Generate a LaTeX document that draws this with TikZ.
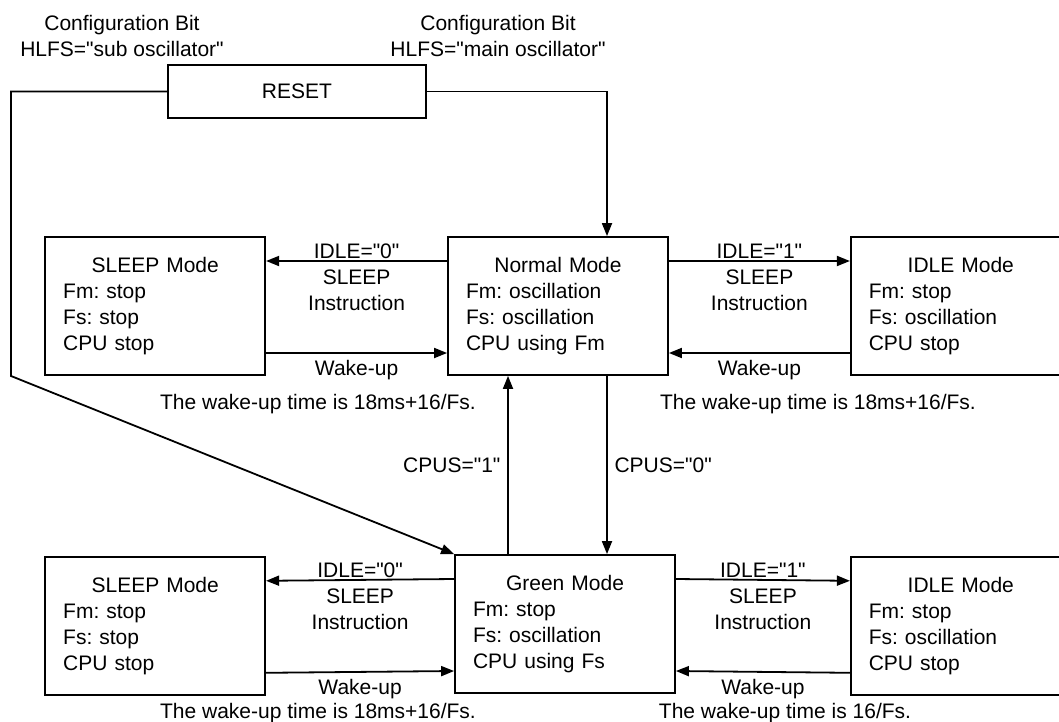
\documentclass[tikz,border=0pt]{standalone}
\usepackage{fontspec}
\setmainfont{Liberation Sans}[Ligatures=TeXOff]
\usetikzlibrary{arrows.meta,positioning}
\newcommand{\modehead}[1]{\hbox to\hsize{\hfil#1\hfil}\\}

\begin{document}
\begin{tikzpicture}[x=0.5pt,y=-0.5pt,
  font=\fontsize{10.5}{13}\selectfont\frenchspacing,
  modebox/.style={draw, line width=0.9pt, minimum width=110pt, minimum height=69pt, text width=92pt, align=left, inner sep=0pt},
  resetbox/.style={draw, line width=0.9pt, minimum width=129pt, minimum height=26.5pt},
  arr/.style={line width=0.9pt, -{Triangle[length=6.5pt,width=5pt]}},
  cond/.style={midway, yshift=-8pt, align=center, inner sep=0pt}]
  \useasboundingbox (0,0) rectangle (1059,722);

  % configuration bits and reset
  \node[align=center] (cfgsub) at (122,36) {Configuration Bit\\HLFS="sub oscillator"};
  \node[align=center] (cfgmain) at (498,36) {Configuration Bit\\HLFS="main oscillator"};
  \node[resetbox] (reset) at (297,91.5) {RESET};

  % top row
  \node[modebox] (normal) at (558,306) {\modehead{Normal Mode}Fm: oscillation\\Fs: oscillation\\CPU using Fm};
  \node[modebox, left=90.5pt of normal] (sleepA) {\modehead{SLEEP Mode}Fm: stop\\Fs: stop\\CPU stop};
  \node[modebox, right=90.5pt of normal] (idleA) {\modehead{IDLE Mode}Fm: stop\\Fs: oscillation\\CPU stop};

  % bottom row
  \node[modebox] (green) at (565,624) {\modehead{Green Mode}Fm: stop\\Fs: oscillation\\CPU using Fs};
  \node[modebox, below=90pt of sleepA] (sleepB) {\modehead{SLEEP Mode}Fm: stop\\Fs: stop\\CPU stop};
  \node[modebox, below=90pt of idleA] (idleB) {\modehead{IDLE Mode}Fm: stop\\Fs: oscillation\\CPU stop};

  % wake-up times
  \node (noteA) at (318,404) {The wake-up time is 18ms+16/Fs.};
  \node (noteB) at (818,404) {The wake-up time is 18ms+16/Fs.};
  \node (noteC) at (318,713) {The wake-up time is 18ms+16/Fs.};
  \node (noteD) at (785,713) {The wake-up time is 16/Fs.};

  % reset paths
  \coordinate (bend) at (11,376);
  \draw[arr] (reset.west) -| (bend) -- (green.north west);
  \draw[arr] (reset.east) -| ([xshift=24.5pt]normal.north);

  % normal mode transitions
  \draw[arr] ([yshift=22.5pt]normal.west) -- ([yshift=22.5pt]sleepA.east) node[cond] {IDLE="0"\\SLEEP\\Instruction};
  \draw[arr] ([yshift=-23.5pt]sleepA.east) -- ([yshift=-23.5pt]normal.west) node[midway,below] {Wake-up};
  \draw[arr] ([yshift=22.5pt]normal.east) -- ([yshift=22.5pt]idleA.west) node[cond] {IDLE="1"\\SLEEP\\Instruction};
  \draw[arr] ([yshift=-23.5pt]idleA.west) -- ([yshift=-23.5pt]normal.east) node[midway,below] {Wake-up};

  % green mode transitions
  \draw[arr] ([yshift=22.5pt]green.west) -- ([yshift=22.5pt]sleepB.east) node[cond] {IDLE="0"\\SLEEP\\Instruction};
  \draw[arr] ([yshift=-23.5pt]sleepB.east) -- ([yshift=-23.5pt]green.west) node[midway,below] {Wake-up};
  \draw[arr] ([yshift=22.5pt]green.east) -- ([yshift=22.5pt]idleB.west) node[cond] {IDLE="1"\\SLEEP\\Instruction};
  \draw[arr] ([yshift=-23.5pt]idleB.west) -- ([yshift=-23.5pt]green.east) node[midway,below] {Wake-up};

  % CPUS switching
  \draw[arr] ([xshift=-28.5pt]green.north) -- ([xshift=-25pt]normal.south) node[midway,left] {CPUS="1"};
  \draw[arr] ([xshift=24.5pt]normal.south) -- ([xshift=21pt]green.north) node[midway,right] {CPUS="0"};
\end{tikzpicture}
\end{document}
